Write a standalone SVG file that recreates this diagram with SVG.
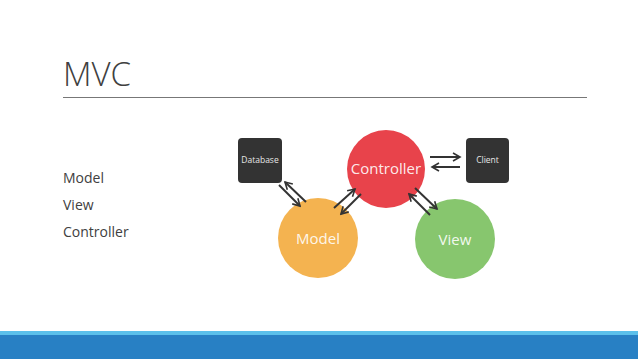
<svg xmlns="http://www.w3.org/2000/svg" width="638" height="359" viewBox="0 0 638 359">
<style>
.t{font-family:"Open Sans","Liberation Sans",sans-serif;}
.title{font-size:33px;fill:#404040;font-weight:300;}
.list{font-size:14px;fill:#404040;}
.ctext{font-size:15px;fill:#ffffff;fill-opacity:0.9;text-anchor:middle;}
.btext{font-size:8.5px;fill:#e6e6e6;text-anchor:middle;}
.box{fill:#333333;}
.arr{stroke:#333333;stroke-width:2;fill:none;marker-end:url(#ah);}
</style>
<defs>
<marker id="ah" viewBox="0 0 10 10" refX="8" refY="5" markerWidth="5" markerHeight="5" orient="auto" markerUnits="strokeWidth">
<path d="M1,1 L8,5 L1,9" fill="none" stroke="#333333" stroke-width="1.6"/>
</marker>
</defs>
<rect width="638" height="359" fill="#ffffff"/>
<text class="t title" x="63" y="86">MVC</text>
<line x1="63" y1="97.5" x2="587" y2="97.5" stroke="#777777" stroke-width="1"/>
<text class="t list" x="63" y="183">Model</text>
<text class="t list" x="63" y="210">View</text>
<text class="t list" x="63" y="237">Controller</text>
<g id="controller"><circle cx="386" cy="169" r="39" fill="#E8434B"/><text class="t ctext" x="386" y="174">Controller</text></g>
<g id="model"><circle cx="318" cy="238" r="40" fill="#F4B350"/><text class="t ctext" x="318" y="244">Model</text></g>
<g id="view"><circle cx="455" cy="239" r="40" fill="#87C66E"/><text class="t ctext" x="455" y="245">View</text></g>
<g id="database"><rect class="box" x="238" y="138" width="44" height="45" rx="4"/><text class="t btext" x="260" y="163">Database</text></g>
<g id="client"><rect class="box" x="466" y="138" width="43" height="45" rx="4"/><text class="t btext" x="487.5" y="163">Client</text></g>
<g id="connectors">
<line class="arr" x1="279" y1="185" x2="300" y2="206"/>
<line class="arr" x1="306" y1="202" x2="285" y2="182"/>
<line class="arr" x1="334" y1="208" x2="355" y2="189"/>
<line class="arr" x1="361" y1="194" x2="341" y2="214"/>
<line class="arr" x1="415" y1="188" x2="437" y2="209"/>
<line class="arr" x1="430" y1="215" x2="409" y2="194"/>
<line class="arr" x1="430" y1="157" x2="460" y2="157"/>
<line class="arr" x1="460" y1="167" x2="432" y2="167"/>
</g>
<rect x="0" y="331" width="638" height="4" fill="#5BC0EB"/>
<rect x="0" y="335" width="638" height="24" fill="#2880C4"/>
</svg>
